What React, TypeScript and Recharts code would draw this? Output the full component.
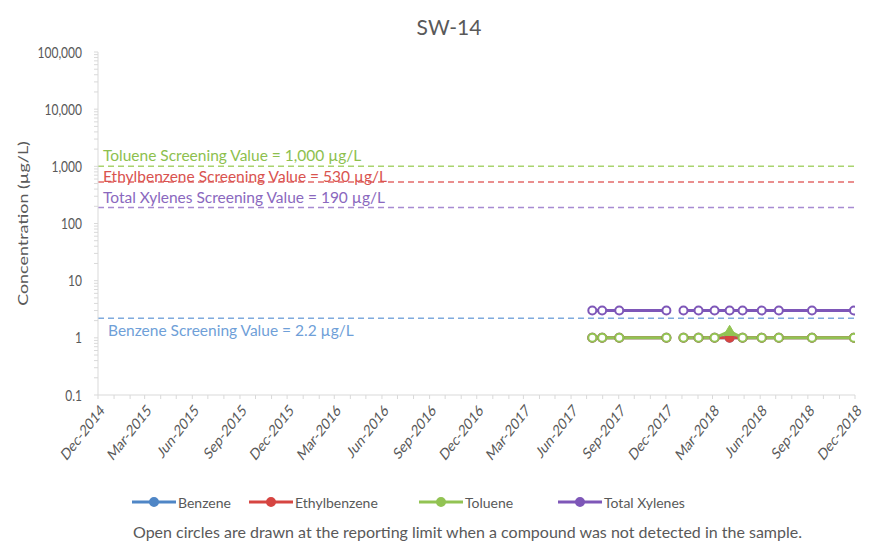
import React from 'react';
import { LineChart, Line, XAxis, YAxis, ReferenceLine } from 'recharts';

// ---------- data ----------
const sampleDates: string[] = [
  '2017-07-12', '2017-07-31', '2017-09-02', '2017-12-02', '2017-12-18',
  '2018-01-04', '2018-02-02', '2018-03-05', '2018-04-03', '2018-04-28',
  '2018-06-04', '2018-07-07', '2018-09-09', '2018-11-29',
];
const benzene: (number | null)[] = [1, 1, 1, 1, null, 1, 1, 1, 1, 1, 1, 1, 1, 1];
const ethylbenzene: (number | null)[] = [1, 1, 1, 1, null, 1, 1, 1, 1, 1, 1, 1, 1, 1];
const toluene: (number | null)[] = [1, 1, 1, 1, null, 1, 1, 1, 1.3, 1, 1, 1, 1, 1];
const totalXylenes: (number | null)[] = [3, 3, 3, 3, null, 3, 3, 3, 3, 3, 3, 3, 3, 3];
const ethylbenzeneDetected: boolean[] = [false, false, false, false, false, false, false, false, true, false, false, false, false, false];
const tolueneDetected: boolean[] = [false, false, false, false, false, false, false, false, true, false, false, false, false, false];

const xTickLabels: string[] = [
  'Dec-2014', 'Mar-2015', 'Jun-2015', 'Sep-2015', 'Dec-2015', 'Mar-2016', 'Jun-2016', 'Sep-2016',
  'Dec-2016', 'Mar-2017', 'Jun-2017', 'Sep-2017', 'Dec-2017', 'Mar-2018', 'Jun-2018', 'Sep-2018', 'Dec-2018',
];
const yMajorTicks: number[] = [0.1, 1, 10, 100, 1000, 10000, 100000];

const screening = [
  { name: 'Toluene', value: 1000, text: 'Toluene Screening Value = 1,000 µg/L', color: '#A9D46F', textColor: '#8DBF4E', dx: 5, dy: -11 },
  { name: 'Ethylbenzene', value: 530, text: 'Ethylbenzene Screening Value = 530 µg/L', color: '#E36A6A', textColor: '#D9534F', dx: 5, dy: -6 },
  { name: 'Total Xylenes', value: 190, text: 'Total Xylenes Screening Value = 190 µg/L', color: '#A88BD2', textColor: '#8A68BE', dx: 5, dy: -11 },
  { name: 'Benzene', value: 2.2, text: 'Benzene Screening Value = 2.2 µg/L', color: '#7FAADD', textColor: '#6F9FD8', dx: 10, dy: 12 },
];

const seriesColors = {
  Benzene: '#4F86C6',
  Ethylbenzene: '#D64541',
  Toluene: '#92C353',
  'Total Xylenes': '#7E57B8',
};

// ---------- derived ----------
const MONTHS = ['Jan', 'Feb', 'Mar', 'Apr', 'May', 'Jun', 'Jul', 'Aug', 'Sep', 'Oct', 'Nov', 'Dec'];
const parseTick = (s: string) => {
  const [m, y] = s.split('-');
  return Date.UTC(Number(y), MONTHS.indexOf(m), 1);
};
const majorTs = xTickLabels.map(parseTick);
const labelByTs: Record<number, string> = {};
majorTs.forEach((t, i) => (labelByTs[t] = xTickLabels[i]));
const xDomain: [number, number] = [majorTs[0], majorTs[majorTs.length - 1]];
const xAllTicks: number[] = [];
for (let i = 0; i < majorTs.length - 1; i++) {
  const d = new Date(majorTs[i]);
  for (let k = 0; k < 3; k++) xAllTicks.push(Date.UTC(d.getUTCFullYear(), d.getUTCMonth() + k, 1));
}
xAllTicks.push(majorTs[majorTs.length - 1]);

const yAllTicks: number[] = [];
for (let i = 0; i < yMajorTicks.length - 1; i++) {
  for (let k = 1; k < 10; k++) yAllTicks.push(Number((yMajorTicks[i] * k).toPrecision(3)));
}
yAllTicks.push(yMajorTicks[yMajorTicks.length - 1]);

const data = sampleDates.map((d, i) => ({
  t: Date.parse(d + 'T00:00:00Z'),
  Benzene: benzene[i],
  Ethylbenzene: ethylbenzene[i],
  Toluene: toluene[i],
  'Total Xylenes': totalXylenes[i],
  ethDet: ethylbenzeneDetected[i],
  tolDet: tolueneDetected[i],
}));

const FONT = 'Lato, "Open Sans", sans-serif';
const GREY = '#595959';

const XTick = (props: any) => {
  const { x, y, payload } = props;
  const label = labelByTs[payload.value];
  if (!label) return null;
  return (
    <text
      x={0}
      y={0}
      transform={`translate(${x + 4},${y + 6}) scale(1,1.28) rotate(-45)`}
      textAnchor="end"
      dominantBaseline="central"
      fontSize={12.5}
      fontFamily={FONT}
      fill={GREY}
    >
      {label}
    </text>
  );
};

const YTick = (props: any) => {
  const { x, y, payload } = props;
  const v = payload.value;
  if (!yMajorTicks.includes(v)) return null;
  const label = v < 1 ? String(v) : v.toLocaleString('en-US');
  return (
    <text
      transform={`translate(${x},${y}) scale(1,1.25)`}
      textAnchor="end"
      dominantBaseline="central"
      fontSize={12}
      fontFamily={FONT}
      fill={GREY}
    >
      {label}
    </text>
  );
};

const YLabel = (props: any) => {
  const { viewBox } = props;
  const cy = viewBox.y + viewBox.height / 2;
  return (
    <text
      transform={`translate(22,${cy}) rotate(-90) scale(1.28,1)`}
      textAnchor="middle"
      dominantBaseline="central"
      fontSize={14}
      fontFamily={FONT}
      fill={GREY}
    >
      Concentration (µg/L)
    </text>
  );
};

const makeDot = (color: string, detKey?: string, shape?: 'circle' | 'triangle') => (props: any) => {
  const { cx, cy, payload, index } = props;
  if (cx == null || cy == null || payload[props.dataKey] == null) return <g key={index} />;
  const detected = detKey ? payload[detKey] : false;
  if (detected && shape === 'triangle') {
    const r = 6;
    return (
      <polygon
        key={index}
        points={`${cx},${cy - r} ${cx + r},${cy + r * 0.7} ${cx - r},${cy + r * 0.7}`}
        fill={color}
        stroke={color}
        strokeWidth={1}
      />
    );
  }
  return (
    <circle key={index} cx={cx} cy={cy} r={4} fill={detected ? color : '#fff'} stroke={color} strokeWidth={2} />
  );
};

const RefLabel = (text: string, color: string, dx: number, dy: number) => (props: any) => {
  const { viewBox } = props;
  return (
    <text
      x={viewBox.x + dx}
      y={viewBox.y + dy}
      dominantBaseline="central"
      fontSize={15.5}
      fontFamily={FONT}
      fill={color}
    >
      {text}
    </text>
  );
};

const legendItems = [
  { name: 'Benzene', x: 132 },
  { name: 'Ethylbenzene', x: 249 },
  { name: 'Toluene', x: 419 },
  { name: 'Total Xylenes', x: 558 },
];

export default function App() {
  return (
    <div style={{ position: 'absolute', left: 0, top: 0, width: 875, height: 543, background: '#fff', fontFamily: FONT }}>
      <div
        style={{
          position: 'absolute',
          top: 14,
          left: 0,
          width: 898,
          textAlign: 'center',
          fontSize: 21,
          color: GREY,
        }}
      >
        SW-14
      </div>
      <div style={{ position: 'absolute', left: 0, top: 0 }}>
        <LineChart width={875} height={543} data={data} margin={{ top: 52, right: 20, bottom: 0, left: 0 }}>
          <XAxis
            dataKey="t"
            type="number"
            scale="time"
            domain={xDomain}
            ticks={xAllTicks}
            interval={0}
            tick={<XTick />}
            tickSize={4}
            height={148}
            axisLine={{ stroke: '#D9D9D9' }}
            tickLine={{ stroke: '#D9D9D9' }}
            allowDataOverflow
          />
          <YAxis
            scale="log"
            domain={[0.1, 100000]}
            ticks={yAllTicks}
            interval={0}
            tick={<YTick />}
            tickSize={4}
            tickMargin={12}
            width={98}
            axisLine={{ stroke: '#D9D9D9' }}
            tickLine={{ stroke: '#D9D9D9' }}
            allowDataOverflow
            label={<YLabel />}
          />
          {screening.map((s) => (
            <ReferenceLine
              key={s.name}
              y={s.value}
              stroke={s.color}
              strokeDasharray="6 4"
              strokeWidth={1.5}
              label={RefLabel(s.text, s.textColor, s.dx, s.dy)}
            />
          ))}
          <Line
            dataKey="Benzene"
            stroke={seriesColors.Benzene}
            strokeWidth={3}
            dot={makeDot(seriesColors.Benzene)}
            isAnimationActive={false}
          />
          <Line
            dataKey="Ethylbenzene"
            stroke={seriesColors.Ethylbenzene}
            strokeWidth={3}
            dot={makeDot(seriesColors.Ethylbenzene, 'ethDet', 'circle')}
            isAnimationActive={false}
          />
          <Line
            dataKey="Toluene"
            stroke={seriesColors.Toluene}
            strokeWidth={3}
            dot={makeDot(seriesColors.Toluene, 'tolDet', 'triangle')}
            isAnimationActive={false}
          />
          <Line
            dataKey="Total Xylenes"
            stroke={seriesColors['Total Xylenes']}
            strokeWidth={3}
            dot={makeDot(seriesColors['Total Xylenes'])}
            isAnimationActive={false}
          />
        </LineChart>
      </div>
      {legendItems.map((it) => {
        const c = (seriesColors as any)[it.name];
        return (
          <div
            key={it.name}
            style={{ position: 'absolute', left: it.x, top: 493, height: 18, display: 'flex', alignItems: 'center' }}
          >
            <svg width={44} height={18}>
              <line x1={0} y1={9} x2={44} y2={9} stroke={c} strokeWidth={3} />
              <circle cx={22} cy={9} r={4} fill={c} stroke={c} strokeWidth={2} />
            </svg>
            <span style={{ fontSize: 14, color: GREY, marginLeft: 2 }}>{it.name}</span>
          </div>
        );
      })}
      <div
        style={{
          position: 'absolute',
          top: 522,
          left: 0,
          width: 935,
          textAlign: 'center',
          fontSize: 16,
          color: GREY,
        }}
      >
        Open circles are drawn at the reporting limit when a compound was not detected in the sample.
      </div>
    </div>
  );
}
